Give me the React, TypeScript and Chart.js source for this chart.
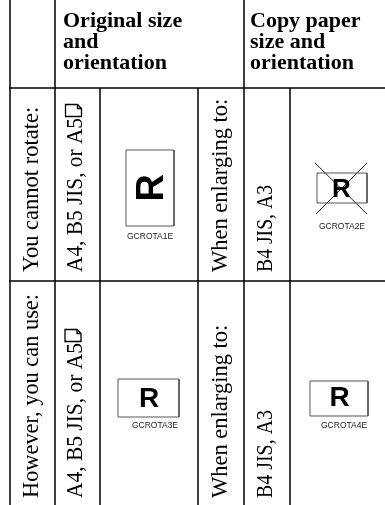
import { useEffect, useRef } from "react";
import { Chart, registerables } from "chart.js";

Chart.register(...registerables);

const W = 385;
const H = 505;

// ---- table content ----
const headerOriginal = ["Original size", "and", "orientation"];
const headerCopy = ["Copy paper", "size and", "orientation"];
const rowLabels = ["You cannot rotate:", "However, you can use:"];
const originalSizes = ["A4, B5 JIS, or A5", "A4, B5 JIS, or A5"];
const conditions = ["When enlarging to:", "When enlarging to:"];
const copySizes = ["B4 JIS, A3", "B4 JIS, A3"];
const figureCodes = ["GCROTA1E", "GCROTA2E", "GCROTA3E", "GCROTA4E"];
const figureLetter = "R";

// ---- layout (table coordinates, in the chart's own scale units) ----
const colEdges = [10, 55, 100, 198, 244, 290, 385];
const rowEdges = [0, 88, 281, 505];

const headerFont = "bold 22px 'Liberation Serif'";
const bodyFont = "22.5px 'Liberation Serif'";
const headerLineStep = 21;

const headerCells = [
  { lines: headerOriginal, x: colEdges[1] + 8, y: 26.5 },
  { lines: headerCopy, x: colEdges[4] + 6, y: 26.5 },
];

// rotated cell texts: baseline x, start y (bottom), max length
const rotatedCells = [
  { text: rowLabels[0], x: 37.5, y: 272, max: 168, icon: false },
  { text: originalSizes[0], x: 82, y: 272, max: 154, icon: true },
  { text: conditions[0], x: 227.3, y: 272, max: 174, icon: false },
  { text: copySizes[0], x: 272, y: 272, max: 87, icon: false },
  { text: rowLabels[1], x: 37.5, y: 498, max: 204, icon: false },
  { text: originalSizes[1], x: 81.5, y: 498, max: 155, icon: true },
  { text: conditions[1], x: 227.3, y: 498, max: 175, icon: false },
  { text: copySizes[1], x: 272, y: 498, max: 88, icon: false },
];

const figures = [
  { box: [126, 150, 174, 226], cx: 149.5, cy: 187, size: 38, rotate: true, cross: false, code: figureCodes[0], capX: 127, capY: 239, capW: 47 },
  { box: [317, 173, 367, 203], cx: 342, cy: 187.5, size: 26, rotate: false, cross: true, code: figureCodes[1], capX: 319, capY: 228.5, capW: 46 },
  { box: [118, 379, 179, 417], cx: 149.5, cy: 397, size: 28, rotate: false, cross: false, code: figureCodes[2], capX: 132, capY: 427.5, capW: 46 },
  { box: [310, 381, 368, 416], cx: 340, cy: 396, size: 28, rotate: false, cross: false, code: figureCodes[3], capX: 321, capY: 427.5, capW: 47 },
];

const crossLines = [
  [[315, 163], [367, 214]],
  [[367, 163], [316, 214]],
];

type Pt = { x: number; y: number };

function lineSet(points: Pt[], width: number, color: string) {
  return {
    type: "line" as const,
    data: points,
    showLine: true,
    borderColor: color,
    borderWidth: width,
    pointRadius: 0,
    pointHoverRadius: 0,
    fill: false,
    tension: 0,
  };
}

function buildDatasets() {
  const sets: any[] = [];
  const top = rowEdges[0];
  const head = rowEdges[1];
  const bottom = rowEdges[3];
  const vertical = [
    [colEdges[0], top],
    [colEdges[1], top],
    [colEdges[2], head],
    [colEdges[3], head],
    [colEdges[4], top],
    [colEdges[5], head],
  ];
  vertical.forEach(([x, y0]) => {
    sets.push(lineSet([{ x, y: y0 }, { x, y: bottom }], 1.5, "#000"));
  });
  [rowEdges[1], rowEdges[2]].forEach((y) => {
    sets.push(lineSet([{ x: colEdges[0] - 0.75, y }, { x: colEdges[6], y }], 1.5, "#000"));
  });
  figures.forEach((f) => {
    const [x0, y0, x1, y1] = f.box;
    sets.push(
      lineSet(
        [
          { x: x0, y: y0 },
          { x: x1, y: y0 },
          { x: x1, y: y1 },
          { x: x0, y: y1 },
          { x: x0, y: y0 },
        ],
        1,
        "#555"
      )
    );
  });
  crossLines.forEach(([a, b]) => {
    sets.push(lineSet([{ x: a[0], y: a[1] }, { x: b[0], y: b[1] }], 1, "#222"));
  });
  return sets;
}

const tablePlugin = {
  id: "tableText",
  afterDatasetsDraw(chart: any) {
    const { ctx } = chart;
    const xs = chart.scales.x;
    const ys = chart.scales.y;
    const px = (v: number) => xs.getPixelForValue(v);
    const py = (v: number) => ys.getPixelForValue(v);
    ctx.save();
    ctx.fillStyle = "#000";
    ctx.strokeStyle = "#000";
    ctx.textAlign = "left";
    ctx.textBaseline = "alphabetic";

    // header
    ctx.font = headerFont;
    headerCells.forEach((h) => {
      h.lines.forEach((t, i) => {
        ctx.fillText(t, px(h.x), py(h.y + i * headerLineStep));
      });
    });

    // rotated body text
    ctx.font = bodyFont;
    rotatedCells.forEach((c) => {
      const natural = ctx.measureText(c.text).width;
      const len = Math.min(natural, c.max);
      const bx = px(c.x);
      const by = py(c.y);
      ctx.save();
      ctx.translate(bx, by);
      ctx.rotate(-Math.PI / 2);
      ctx.fillText(c.text, 0, 0, c.max);
      ctx.restore();
      if (c.icon) {
        // small page symbol (portrait sheet with folded corner)
        const gap = 1.5;
        const w = 12;
        const h = 16;
        const f = 4;
        const B = by - len - gap;
        const T = B - w;
        const R = bx - 0.5;
        const L = R - h;
        ctx.save();
        ctx.lineWidth = 1.3;
        ctx.beginPath();
        ctx.moveTo(L, T);
        ctx.lineTo(R - f, T);
        ctx.lineTo(R, T + f);
        ctx.lineTo(R, B);
        ctx.lineTo(L, B);
        ctx.closePath();
        ctx.stroke();
        ctx.beginPath();
        ctx.moveTo(R - f, T);
        ctx.lineTo(R - f, T + f);
        ctx.lineTo(R, T + f);
        ctx.stroke();
        ctx.restore();
      }
    });

    // figures: letter and caption
    figures.forEach((f) => {
      ctx.save();
      ctx.font = `bold ${f.size}px 'Liberation Sans'`;
      const m = ctx.measureText(figureLetter);
      const dx = -(m.actualBoundingBoxRight - m.actualBoundingBoxLeft) / 2;
      const dy = (m.actualBoundingBoxAscent - m.actualBoundingBoxDescent) / 2;
      ctx.translate(px(f.cx), py(f.cy));
      if (f.rotate) ctx.rotate(-Math.PI / 2);
      ctx.fillText(figureLetter, dx, dy);
      ctx.restore();

      ctx.save();
      ctx.fillStyle = "#222";
      ctx.font = "8.5px 'Liberation Sans'";
      ctx.fillText(f.code, px(f.capX), py(f.capY), f.capW);
      ctx.restore();
    });

    ctx.restore();
  },
};

export default function App() {
  const ref = useRef<HTMLCanvasElement | null>(null);
  useEffect(() => {
    if (!ref.current) return;
    const chart = new Chart(ref.current, {
      type: "scatter",
      data: { datasets: buildDatasets() },
      options: {
        animation: false,
        responsive: false,
        devicePixelRatio: 1,
        events: [],
        layout: { padding: 0 },
        plugins: { legend: { display: false }, tooltip: { enabled: false } },
        scales: {
          x: { type: "linear", min: 0, max: W, display: false },
          y: { type: "linear", min: 0, max: H, reverse: true, display: false },
        },
      },
      plugins: [tablePlugin],
    });
    return () => chart.destroy();
  }, []);
  return (
    <div style={{ position: "fixed", left: 0, top: 0, width: W, height: H, background: "#fff" }}>
      <canvas ref={ref} width={W} height={H} style={{ display: "block" }} />
    </div>
  );
}
